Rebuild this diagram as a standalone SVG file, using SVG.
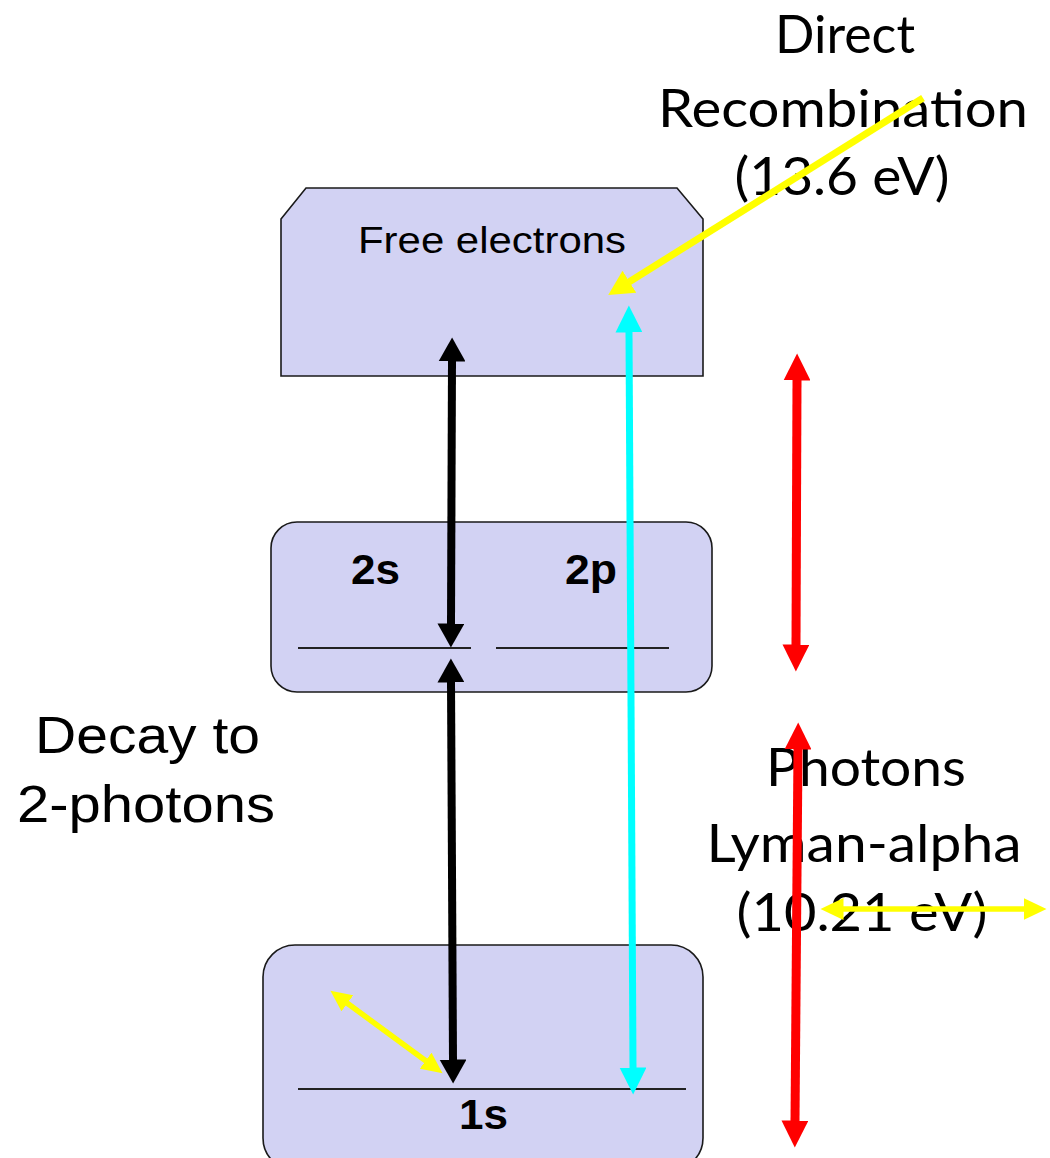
<svg xmlns="http://www.w3.org/2000/svg" width="1050" height="1158" viewBox="0 0 1050 1158">
<style>
.box{fill:#d2d2f3;stroke:#1a1a1a;stroke-width:1.6}
.lvl{stroke:#222;stroke-width:2;fill:none}
.sans{font-family:"Liberation Sans",Arial,sans-serif;fill:#000}
.bold{font-weight:bold}
.hand{font-family:Lato,"Open Sans",sans-serif;font-weight:normal;fill:#000;text-anchor:middle}
.blk{stroke:#000;stroke-width:8;fill:none}
.cyn{stroke:#00ffff;stroke-width:7;fill:none}
.red{stroke:#ff0000;stroke-width:9;fill:none}
.yel{stroke:#ffff00;stroke-width:7;fill:none}
.yels{stroke:#ffff00;stroke-width:5.5;fill:none}
</style>
<defs>
<marker id="mBlk" markerUnits="userSpaceOnUse" markerWidth="25" markerHeight="27" refX="0.5" refY="13.5" orient="auto-start-reverse"><path d="M0,0 L24,13.5 L0,27 z" fill="#000"/></marker>
<marker id="mCyn" markerUnits="userSpaceOnUse" markerWidth="28" markerHeight="27" refX="0.5" refY="13.5" orient="auto-start-reverse"><path d="M0,0 L27,13.5 L0,27 z" fill="#00ffff"/></marker>
<marker id="mRed" markerUnits="userSpaceOnUse" markerWidth="28" markerHeight="27" refX="0.5" refY="13.5" orient="auto-start-reverse"><path d="M0,0 L27,13.5 L0,27 z" fill="#ff0000"/></marker>
<marker id="mYel" markerUnits="userSpaceOnUse" markerWidth="26" markerHeight="26" refX="0.5" refY="13" orient="auto-start-reverse"><path d="M0,0 L25,13 L0,26 z" fill="#ffff00"/></marker>
<marker id="mYelS" markerUnits="userSpaceOnUse" markerWidth="22" markerHeight="20" refX="0.5" refY="10" orient="auto-start-reverse"><path d="M0,0 L21,10 L0,20 z" fill="#ffff00"/></marker>
<marker id="mYelH" markerUnits="userSpaceOnUse" markerWidth="24" markerHeight="22" refX="0.5" refY="11" orient="auto-start-reverse"><path d="M0,0 L23,11 L0,22 z" fill="#ffff00"/></marker>
</defs>

<g id="free-electrons">
<path class="box" d="M281,219 L306,188 L677,188 L703,219 L703,376 L281,376 z"/>
<text class="sans" x="358" y="253" font-size="37" textLength="268" lengthAdjust="spacingAndGlyphs">Free electrons</text>
</g>

<g id="level-2">
<rect class="box" x="271" y="522" width="441" height="170" rx="26" ry="26"/>
<line class="lvl" x1="298" y1="648" x2="471" y2="648"/>
<line class="lvl" x1="496" y1="648" x2="669" y2="648"/>
<text class="sans bold" x="351" y="584" font-size="42" textLength="49" lengthAdjust="spacingAndGlyphs">2s</text>
<text class="sans bold" x="565" y="584" font-size="42" textLength="52" lengthAdjust="spacingAndGlyphs">2p</text>
</g>

<g id="level-1">
<rect class="box" x="263" y="945" width="440" height="225" rx="32" ry="32"/>
<line class="lvl" x1="298" y1="1089" x2="686" y2="1089"/>
<text class="sans bold" x="459" y="1129" font-size="42" textLength="49" lengthAdjust="spacingAndGlyphs">1s</text>
</g>

<g id="label-decay">
<text class="sans" x="35" y="753" font-size="52" textLength="225" lengthAdjust="spacingAndGlyphs">Decay to</text>
<text class="sans" x="17" y="822" font-size="52" textLength="258" lengthAdjust="spacingAndGlyphs">2-photons</text>
</g>

<g id="label-direct">
<text class="hand" x="845" y="53" font-size="52" textLength="140" lengthAdjust="spacingAndGlyphs">Direct</text>
<text class="hand" x="843" y="127" font-size="52" textLength="370" lengthAdjust="spacingAndGlyphs">Recombination</text>
<text class="hand" x="842" y="195" font-size="52" textLength="215" lengthAdjust="spacingAndGlyphs">(13.6 eV)</text>
</g>

<g id="connectors">
<line class="blk" x1="452" y1="361" x2="451" y2="624" marker-start="url(#mBlk)" marker-end="url(#mBlk)"/>
<line class="blk" x1="451" y1="682" x2="453" y2="1060" marker-start="url(#mBlk)" marker-end="url(#mBlk)"/>
<line class="cyn" x1="629" y1="332" x2="633" y2="1068" marker-start="url(#mCyn)" marker-end="url(#mCyn)"/>
<line class="red" x1="797" y1="380" x2="796" y2="645" marker-start="url(#mRed)" marker-end="url(#mRed)"/>
<line class="yel" x1="923" y1="98" x2="629" y2="282" marker-end="url(#mYel)"/>
<line class="yels" x1="347" y1="1003" x2="426" y2="1061" marker-start="url(#mYelS)" marker-end="url(#mYelS)"/>
</g>

<g id="label-photons">
<text class="hand" x="866" y="786" font-size="52" textLength="200" lengthAdjust="spacingAndGlyphs">Photons</text>
<text class="hand" x="864" y="862" font-size="52" textLength="315" lengthAdjust="spacingAndGlyphs">Lyman-alpha</text>
<text class="hand" x="862" y="931" font-size="52" textLength="251" lengthAdjust="spacingAndGlyphs">(10.21 eV)</text>
</g>

<g id="connectors-over-text">
<line class="red" x1="798" y1="749" x2="795" y2="1121" marker-start="url(#mRed)" marker-end="url(#mRed)"/>
<line class="yels" x1="843" y1="909" x2="1024" y2="909" marker-start="url(#mYelH)" marker-end="url(#mYelH)"/>
</g>
</svg>
